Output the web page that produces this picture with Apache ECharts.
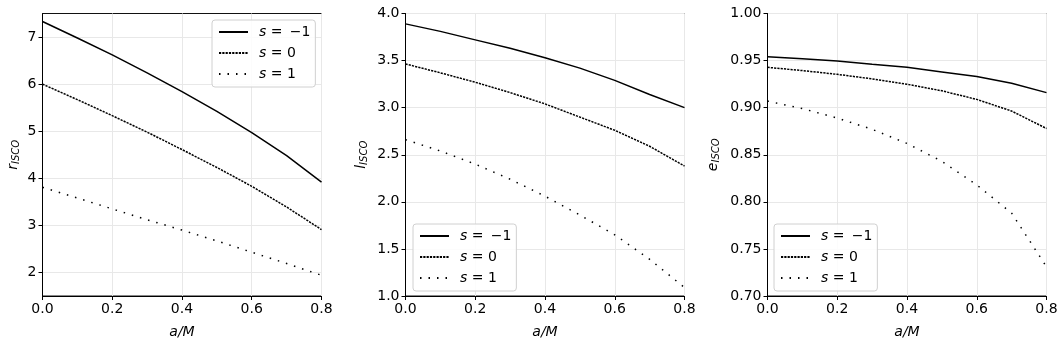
<!DOCTYPE html>
<html><head><meta charset="utf-8">
<script src="https://cdn.jsdelivr.net/npm/echarts@6/dist/echarts.min.js"></script>
<style>html,body{margin:0;padding:0;background:#fff}#c{width:1064px;height:344px}</style>
</head><body><div id="c"></div>
<script>
const aM = [0, 0.1, 0.2, 0.3, 0.4, 0.5, 0.6, 0.7, 0.8];
const rSm1 = [7.33, 6.98, 6.62, 6.24, 5.84, 5.42, 4.97, 4.48, 3.92];
const rS0  = [6.00, 5.67, 5.33, 4.98, 4.61, 4.23, 3.83, 3.39, 2.91];
const rSp1 = [3.81, 3.58, 3.35, 3.12, 2.90, 2.67, 2.43, 2.19, 1.94];
const lSm1 = [3.89, 3.81, 3.72, 3.63, 3.53, 3.42, 3.29, 3.14, 3.00];
const lS0  = [3.464, 3.37, 3.27, 3.16, 3.04, 2.90, 2.76, 2.59, 2.38];
const lSp1 = [2.66, 2.54, 2.40, 2.24, 2.06, 1.86, 1.65, 1.39, 1.09];
const eSm1 = [0.954, 0.952, 0.9495, 0.946, 0.943, 0.938, 0.933, 0.926, 0.916];
const eS0  = [0.9428, 0.9394, 0.9354, 0.9306, 0.9249, 0.9179, 0.9088, 0.8964, 0.8779];
const eSp1 = [0.907, 0.899, 0.889, 0.877, 0.862, 0.843, 0.818, 0.788, 0.731];
const seriesNames = ['s = \u2009−1', 's = 0', 's = 1'];
const xTicks = [0, 0.2, 0.4, 0.6, 0.8];
const rTicks = [2, 3, 4, 5, 6, 7];

const FONT = 'DejaVu Sans';
const FS = 14;
const lineTypes = ['solid', [2.2, 1.1], [1.5, 7]];
const panels = [
  {sym: 'r', left: 42.5, ymin: 1.5, ymax: 7.5, data: [rSm1, rS0, rSp1], dec: 0, gap: 21, legend: {left: 212, top: 20}},
  {sym: 'l', left: 405.5, ymin: 1.0, ymax: 4.0, interval: 0.5, data: [lSm1, lS0, lSp1], dec: 1, gap: 36, legend: {left: 413, top: 224}},
  {sym: 'e', left: 767.5, ymin: 0.70, ymax: 1.00, interval: 0.05, data: [eSm1, eS0, eSp1], dec: 2, gap: 46, legend: {left: 774, top: 224}}
];

const grids = [], xAxes = [], yAxes = [], series = [], legends = [];
const axisCommon = {
  axisLine: {show: true, onZero: false, lineStyle: {color: '#000', width: 1}},
  axisTick: {show: true, length: 4, lineStyle: {color: '#000', width: 1}},
  splitLine: {show: true, lineStyle: {color: '#e8e8e8', width: 1}}
};
panels.forEach((p, i) => {
  grids.push({left: p.left, top: 13.5, width: 279, height: 283, show: true, borderColor: '#111', borderWidth: 1, backgroundColor: 'transparent'});
  xAxes.push(Object.assign({}, axisCommon, {
    type: 'value', gridIndex: i, min: 0, max: 0.8, interval: 0.2,
    axisLabel: {fontFamily: FONT, fontSize: FS, color: '#000', margin: 6, formatter: v => v.toFixed(1)},
    axisTick: {show: true, length: 4, inside: false, lineStyle: {color: '#000'}, customValues: xTicks},
    name: 'a/M', nameLocation: 'middle', nameGap: 29,
    nameTextStyle: {fontFamily: FONT, fontSize: FS, fontStyle: 'italic', color: '#000'}
  }));
  const y = Object.assign({}, axisCommon, {
    type: 'value', gridIndex: i, min: p.ymin, max: p.ymax,
    axisLabel: {fontFamily: FONT, fontSize: FS, color: '#000', margin: 6, formatter: v => v.toFixed(p.dec)},
    name: '{m|' + p.sym + '}{s|ISCO}', nameLocation: 'middle', nameGap: p.gap, nameRotate: 90,
    nameTextStyle: {color: '#000', rich: {
      m: {fontFamily: FONT, fontSize: FS, fontStyle: 'italic', color: '#000'},
      s: {fontFamily: FONT, fontSize: 10, fontStyle: 'italic', color: '#000', padding: [6, 0, 0, 0]}
    }}
  });
  if (p.interval) {
    y.interval = p.interval;
  } else {
    y.axisLabel.customValues = rTicks;
    y.axisTick = {show: true, length: 4, lineStyle: {color: '#000'}, customValues: rTicks};
  }
  yAxes.push(y);
  p.data.forEach((d, k) => {
    series.push({
      type: 'line', name: seriesNames[k], xAxisIndex: i, yAxisIndex: i,
      data: aM.map((a, j) => [a, d[j]]),
      showSymbol: false, symbol: 'none', smooth: false, silent: true,
      lineStyle: {color: '#000', width: 1.5, type: lineTypes[k], cap: 'butt'},
      itemStyle: {color: '#000'}
    });
  });
  legends.push({
    left: p.legend.left, top: p.legend.top, orient: 'vertical',
    data: seriesNames, itemWidth: 29, itemHeight: 12, itemGap: 7,
    padding: [5, 5, 6, 6], borderColor: '#d0d0d0', borderWidth: 1, borderRadius: 3,
    backgroundColor: 'rgba(255,255,255,0.85)', selectedMode: false,
    itemStyle: {opacity: 0},
    formatter: n => '{i|s}' + n.slice(1),
    textStyle: {fontFamily: FONT, fontSize: FS, color: '#000', padding: [0, 0, 0, 6],
      rich: {i: {fontFamily: FONT, fontSize: FS, fontStyle: 'italic', color: '#000'}}}
  });
});

const chart = echarts.init(document.getElementById('c'), null, {renderer: 'canvas'});
chart.setOption({
  animation: false, backgroundColor: '#fff',
  grid: grids, xAxis: xAxes, yAxis: yAxes, series: series, legend: legends
});
</script></body></html>
